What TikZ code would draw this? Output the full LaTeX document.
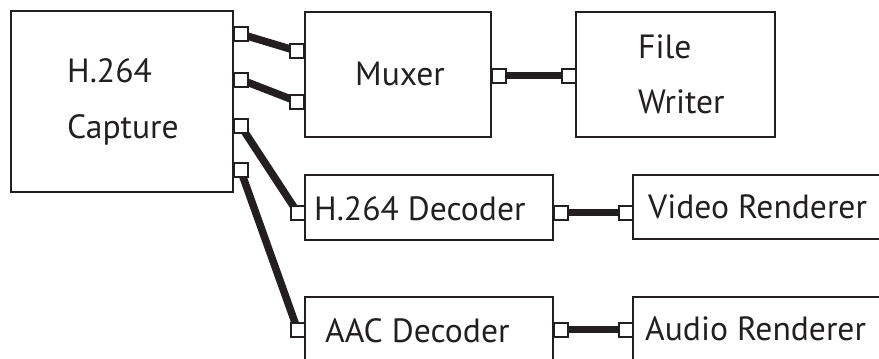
\documentclass[tikz,border=0pt]{standalone}
\usepackage{fontspec}
\setmainfont{PT Sans}
\definecolor{ink}{HTML}{231F20}
\pgfdeclarelayer{bg}
\pgfsetlayers{bg,main}
\begin{document}
\begin{tikzpicture}[x=1pt,y=-1pt,
  box/.style={draw=ink,line width=2.4pt,rectangle,inner sep=0pt},
  port/.style={draw=ink,line width=2pt,fill=white,rectangle,minimum size=14pt,inner sep=0pt},
  wire/.style={draw=ink,line width=7.5pt},
  lbl/.style={anchor=base west,inner sep=0pt,text=ink,font=\fontsize{33.6}{36}\selectfont}]
\path[use as bounding box,clip] (0,0) rectangle (879,359);
% boxes
\node[box,minimum width=222pt,minimum height=181pt] (cap) at (122,101.5) {};
\node[box,minimum width=186pt,minimum height=125pt] (mux) at (398,74.5) {};
\node[box,minimum width=199pt,minimum height=125pt] (fw) at (675.5,74.5) {};
\node[box,minimum width=248pt,minimum height=65pt] (hd) at (429,207.5) {};
\node[box,minimum width=248pt,minimum height=80pt] (ad) at (429,337) {};
\node[box,minimum width=287pt,minimum height=64pt] (vr) at (776.5,207) {};
\node[box,minimum width=287pt,minimum height=80pt] (ar) at (776.5,337) {};
% labels
\node[lbl] (capA) at (67,82) {H.264};
\node[lbl] (capB) at (67,138) {Capture};
\node[lbl] (muxL) at (355,85) {Muxer};
\node[lbl] (fwA) at (638,58) {File};
\node[lbl] (fwB) at (638,113) {Writer};
\node[lbl] (hdL) at (314,220) {H.264 Decoder};
\node[lbl] (adL) at (325,342) {AAC Decoder};
\node[lbl] (vrL) at (648,218) {Video Renderer};
\node[lbl] (arL) at (645,340) {Audio Renderer};
% ports
\node[port] (cp1) at (240.5,34) {};
\node[port] (cp2) at (240.5,79.5) {};
\node[port] (cp3) at (240.5,125.5) {};
\node[port] (cp4) at (240.5,170) {};
\node[port] (mi1) at (297,51) {};
\node[port] (mi2) at (297,101.5) {};
\node[port] (mo) at (498.5,75.5) {};
\node[port] (fi) at (568.5,75.5) {};
\node[port] (hi) at (297.5,212.5) {};
\node[port] (ho) at (560.5,212.5) {};
\node[port] (vi) at (626,212.5) {};
\node[port] (ai) at (297.5,329.5) {};
\node[port] (ao) at (560.5,329.5) {};
\node[port] (ri) at (626,329.5) {};
% wires
\begin{pgfonlayer}{bg}
\draw[wire] (cp1.center) -- (mi1.center);
\draw[wire] (cp2.center) -- (mi2.center);
\draw[wire] (cp3.center) -- (hi.center);
\draw[wire] (cp4.center) -- (ai.center);
\draw[wire] (mo.center) -- (fi.center);
\draw[wire] (ho.center) -- (vi.center);
\draw[wire] (ao.center) -- (ri.center);
\end{pgfonlayer}
\end{tikzpicture}
\end{document}
